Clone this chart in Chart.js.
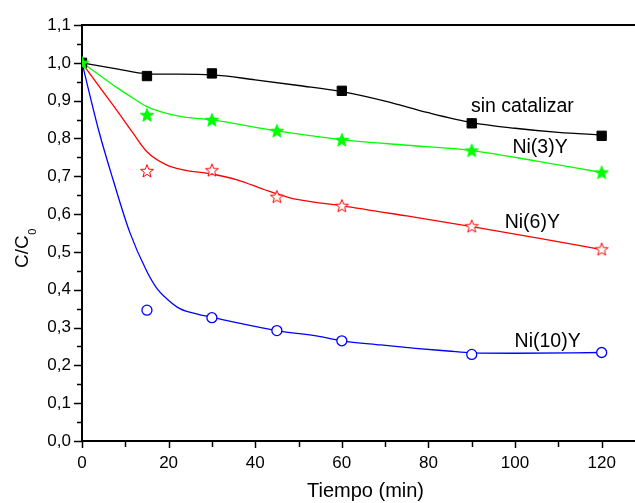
<!DOCTYPE html>
<html><head><meta charset="utf-8">
<script src="https://cdn.jsdelivr.net/npm/chart.js@4/dist/chart.umd.min.js"></script>
<style>html,body{margin:0;padding:0;background:#fff}</style>
</head><body>
<canvas id="c" width="635" height="503"></canvas>
<script>
// ---- measured data ----
const tiempoSin = [0, 15, 30, 60, 90, 120];
const sinCatalizar = [1.0, 0.965, 0.972, 0.926, 0.840, 0.807];

const tiempoNi = [0, 15, 30, 45, 60, 90, 120];
const ni3Y  = [1.0, 0.862, 0.849, 0.820, 0.796, 0.768, 0.710];
const ni6Y  = [null, 0.714, 0.716, 0.646, 0.622, 0.568, 0.507];
const ni10Y = [null, 0.346, 0.326, 0.292, 0.265, 0.229, 0.234];

// fitted curves
const fitSinX = [0, 4, 8, 15, 20, 30, 40, 50, 60, 70, 80, 90, 100, 110, 120];
const fitSinY = [1.0, 0.992, 0.984, 0.971, 0.970, 0.968, 0.955, 0.940, 0.924, 0.899, 0.868, 0.842, 0.827, 0.816, 0.809];
const fitNi3X = [0, 4, 8, 12, 15, 19.5, 23.3, 30, 45, 60, 75, 90, 105, 120];
const fitNi3Y = [1.0, 0.968, 0.935, 0.905, 0.884, 0.866, 0.857, 0.849, 0.820, 0.797, 0.782, 0.768, 0.740, 0.710];
const fitNi6X = [0, 4, 8, 11.8, 15, 19.5, 23.3, 30, 36, 42, 48, 54, 60, 75, 90, 105, 120];
const fitNi6Y = [1.0, 0.937, 0.875, 0.814, 0.765, 0.730, 0.717, 0.706, 0.690, 0.665, 0.643, 0.631, 0.622, 0.595, 0.567, 0.537, 0.506];
const fitNi10X = [0, 4, 7.2, 11, 14.9, 17.2, 19.5, 22.6, 26.4, 30, 45, 55, 60, 69, 77, 84.5, 90, 100, 120];
const fitNi10Y = [1.0, 0.815, 0.690, 0.553, 0.450, 0.405, 0.377, 0.350, 0.336, 0.327, 0.292, 0.276, 0.265, 0.254, 0.245, 0.238, 0.233, 0.232, 0.234];

const yTicks = [0, 0.1, 0.2, 0.3, 0.4, 0.5, 0.6, 0.7, 0.8, 0.9, 1.0, 1.1];
const xTicks = [0, 20, 40, 60, 80, 100, 120];

const labels = [
  {text: 'sin catalizar', x: 89.8, y: 0.871},
  {text: 'Ni(3)Y', x: 99.4, y: 0.761},
  {text: 'Ni(6)Y', x: 97.6, y: 0.562},
  {text: 'Ni(10)Y', x: 99.9, y: 0.249}
];

const FONT = 'Liberation Sans, Arial, Helvetica, sans-serif';

function pts(xs, ys) { return xs.map((x, i) => ({x: x, y: ys[i]})); }

function makeStar(fill, stroke, R, lw) {
  const s = Math.ceil(2 * R + 4);
  const cv = document.createElement('canvas');
  cv.width = s; cv.height = s;
  const g = cv.getContext('2d');
  const cx = s / 2, cy = s / 2 + 0.5, r = R * 0.42;
  g.beginPath();
  for (let i = 0; i < 10; i++) {
    const rr = i % 2 === 0 ? R : r;
    const a = -Math.PI / 2 + i * Math.PI / 5;
    const px = cx + rr * Math.cos(a), py = cy + rr * Math.sin(a);
    if (i === 0) g.moveTo(px, py); else g.lineTo(px, py);
  }
  g.closePath();
  g.fillStyle = fill; g.fill();
  g.lineWidth = lw; g.strokeStyle = stroke; g.lineJoin = 'miter'; g.stroke();
  return cv;
}
const greenStar = makeStar('#00ff00', '#00ff00', 7, 1);
const redStar = makeStar('#ffffff', '#ff0000', 6.8, 1);

function lineDs(xs, ys, color) {
  return {data: pts(xs, ys), showLine: true, borderColor: color, borderWidth: 1.3,
    pointRadius: 0, cubicInterpolationMode: 'monotone', fill: false, order: 5};
}

const datasets = [
  {data: pts(tiempoNi, ni3Y), pointStyle: greenStar, pointRadius: 7, showLine: false, order: 0},
  {data: pts(tiempoSin, sinCatalizar), pointStyle: 'rect', pointRadius: 6.6, backgroundColor: '#000', borderColor: '#000', borderWidth: 1, showLine: false, order: 1},
  {data: pts(tiempoNi, ni6Y), pointStyle: redStar, pointRadius: 7, showLine: false, order: 1},
  {data: pts(tiempoNi, ni10Y), pointStyle: 'circle', pointRadius: 5, backgroundColor: '#fff', borderColor: '#0000ff', borderWidth: 1.3, showLine: false, order: 1},
  lineDs(fitSinX, fitSinY, '#000000'),
  lineDs(fitNi3X, fitNi3Y, '#00ff00'),
  lineDs(fitNi6X, fitNi6Y, '#ff0000'),
  lineDs(fitNi10X, fitNi10Y, '#0000ff')
];

const decor = {
  id: 'decor',
  afterDraw(chart) {
    const ctx = chart.ctx, a = chart.chartArea;
    const xs = chart.scales.x, ys = chart.scales.y;
    ctx.save();
    ctx.strokeStyle = '#000'; ctx.lineWidth = 2;
    // top frame
    ctx.beginPath(); ctx.moveTo(a.left - 1, a.top); ctx.lineTo(chart.width, a.top); ctx.stroke();
    // y ticks
    ctx.lineWidth = 1.5;
    for (let v = 0; v <= 1.1001; v += 0.05) {
      const major = Math.abs(Math.round(v * 10) - v * 10) < 1e-6;
      const py = Math.round(ys.getPixelForValue(v)) + 0.5;
      ctx.beginPath(); ctx.moveTo(a.left, py); ctx.lineTo(a.left - (major ? 8 : 5), py); ctx.stroke();
    }
    // x ticks
    for (let v = 0; v <= 127; v += 10) {
      const major = v % 20 === 0;
      const px = Math.round(xs.getPixelForValue(v)) + 0.5;
      ctx.beginPath(); ctx.moveTo(px, a.bottom); ctx.lineTo(px, a.bottom + (major ? 7 : 6)); ctx.stroke();
    }
    // annotations
    ctx.fillStyle = '#000';
    ctx.font = '19.5px ' + FONT;
    ctx.textAlign = 'left'; ctx.textBaseline = 'alphabetic';
    labels.forEach(l => ctx.fillText(l.text, xs.getPixelForValue(l.x), ys.getPixelForValue(l.y)));
    // x title
    ctx.font = '20px ' + FONT;
    ctx.textAlign = 'center';
    ctx.fillText('Tiempo (min)', 365.5, 496.5);
    // y title with subscript
    ctx.translate(28, 268);
    ctx.rotate(-Math.PI / 2);
    ctx.textAlign = 'left';
    ctx.font = '19px ' + FONT;
    ctx.fillText('C/C', 0, 0);
    const w = ctx.measureText('C/C').width;
    ctx.font = '11px ' + FONT;
    ctx.fillText('0', w + 0.5, 8);
    ctx.restore();
  }
};

new Chart(document.getElementById('c').getContext('2d'), {
  type: 'scatter',
  data: {datasets: datasets},
  options: {
    responsive: false, animation: false, devicePixelRatio: 1,
    layout: {padding: {top: 25, right: 0, left: 0, bottom: 0}, autoPadding: false},
    plugins: {legend: {display: false}, tooltip: {enabled: false}},
    scales: {
      x: {
        type: 'linear', min: 0, max: 127.7,
        afterFit(s) { s.height = 62; s.paddingLeft = 0; s.paddingRight = 0; },
        afterBuildTicks(s) { s.ticks = xTicks.map(v => ({value: v})); },
        grid: {display: false, drawTicks: false},
        border: {display: true, color: '#000', width: 2},
        ticks: {padding: 12, color: '#000', font: {family: FONT, size: 17}, maxRotation: 0, autoSkip: false}
      },
      y: {
        type: 'linear', min: 0, max: 1.1,
        afterFit(s) { s.width = 82; s.paddingTop = 0; s.paddingBottom = 0; },
        afterBuildTicks(s) { s.ticks = yTicks.map(v => ({value: v})); },
        grid: {display: false, drawTicks: false},
        border: {display: true, color: '#000', width: 2},
        ticks: {padding: 11, color: '#000', font: {family: FONT, size: 17}, autoSkip: false,
          callback: v => Number(v).toFixed(1).replace('.', ',')}
      }
    }
  },
  plugins: [decor]
});
</script>
</body></html>
